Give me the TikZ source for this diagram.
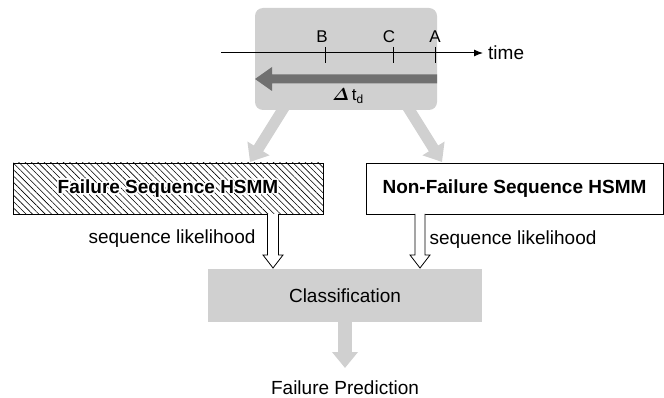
\documentclass[tikz,border=0pt]{standalone}
\usepackage{amsmath}
\usepackage{fontspec}
\setmainfont{Liberation Sans}
\usetikzlibrary{arrows.meta,patterns.meta}
\definecolor{lgray}{RGB}{208,208,208}
\definecolor{dgray}{RGB}{112,112,112}
\tikzset{
  txt/.style={inner sep=0pt, font=\fontsize{19}{23}\selectfont},
  lbl/.style={inner sep=0pt, font=\fontsize{17}{20}\selectfont},
  bigarrow/.style={draw=lgray, line width=11pt, -{Triangle[length=16pt,width=25pt]}},
  model/.style={draw=black, line width=0.8pt, inner sep=0pt, minimum height=51pt, font=\fontsize{19}{23}\selectfont\bfseries},
  hollowarr/.style={draw=black, line width=0.8pt, fill=white},
}
\begin{document}
\begin{tikzpicture}[x=1pt,y=-1pt]
\useasboundingbox (0,0) rectangle (664,398);
% top box
\node[fill=lgray, rounded corners=8pt, minimum width=182pt, minimum height=102pt, inner sep=0pt] (top) at (346,59) {};
% gray arrows to the models
\coordinate (ls) at (285,106);
\coordinate (le) at (250,162);
\coordinate (rs) at (407,106);
\coordinate (re) at (442,162);
\draw[bigarrow] (ls) -- (le);
\draw[bigarrow] (rs) -- (re);
% time axis
\coordinate (ts) at (221,53);
\coordinate (te) at (483,53);
\draw[line width=1pt, -{Latex[length=9pt,width=7pt]}] (ts) -- (te);
\node[txt, anchor=west] (time) at (488,53) {time};
\foreach \n/\x/\lx in {B/325/322, C/393/389, A/435/435}{
  \coordinate (tk\n a) at (\x,47);
  \coordinate (tk\n b) at (\x,63);
  \draw[line width=1pt] (tk\n a) -- (tk\n b);
  \node[lbl] (lab\n) at (\lx,37) {\n};
}
% delta arrow
\fill[dgray] (437,74.5) -- (272,74.5) -- (272,67) -- (255,79) -- (272,91) -- (272,83.5) -- (437,83.5) -- cycle;
\node[inner sep=0pt, font=\fontsize{17}{20}\selectfont] (dt) at (348,96) {$\boldsymbol{\varDelta}\,\mathrm{t}_{\mathrm{d}}$};
% failure model
\node[model, minimum width=310pt, pattern={Lines[angle=-45,distance=4.5pt,line width=0.6pt]}] (fail) at (168,188.5) {};
\foreach \dx/\dy [count=\i] in {1.6/0,-1.6/0,0/1.6,0/-1.6,1.2/1.2,-1.2/1.2,1.2/-1.2,-1.2/-1.2}{
  \node[model, draw=none, text=white] (halo\i) at (168+\dx,188.5+\dy) {Failure Sequence HSMM};
}
\node[model, draw=none] (failtxt) at (168,188.5) {Failure Sequence HSMM};
% non-failure model
\node[model, minimum width=297pt] (nonfail) at (514.5,188.5) {Non-Failure Sequence HSMM};
% classification
\node[fill=lgray, minimum width=274pt, minimum height=53pt, inner sep=0pt, font=\fontsize{19}{23}\selectfont] (class) at (345,295.5) {Classification};
% hollow arrows
\coordinate (ha) at (273,214);
\coordinate (hb) at (420,214);
\draw[hollowarr] (ha) ++(-5.5,0) -- ++(0,41) -- ++(-4.5,0) -- ++(10,13) -- ++(10,-13) -- ++(-4.5,0) -- ++(0,-41);
\draw[hollowarr] (hb) ++(-5,0) -- ++(0,41) -- ++(-5,0) -- ++(10,13) -- ++(10,-13) -- ++(-5,0) -- ++(0,-41);
\node[txt] (sl1) at (172,239) {sequence likelihood};
\node[txt] (sl2) at (513,240) {sequence likelihood};
% output
\coordinate (fpa) at (345,368);
\draw[draw=lgray, line width=14pt, -{Triangle[length=16pt,width=25pt]}] (class.south) -- (fpa);
\node[txt] (fp) at (345,388) {Failure Prediction};
\end{tikzpicture}
\end{document}
